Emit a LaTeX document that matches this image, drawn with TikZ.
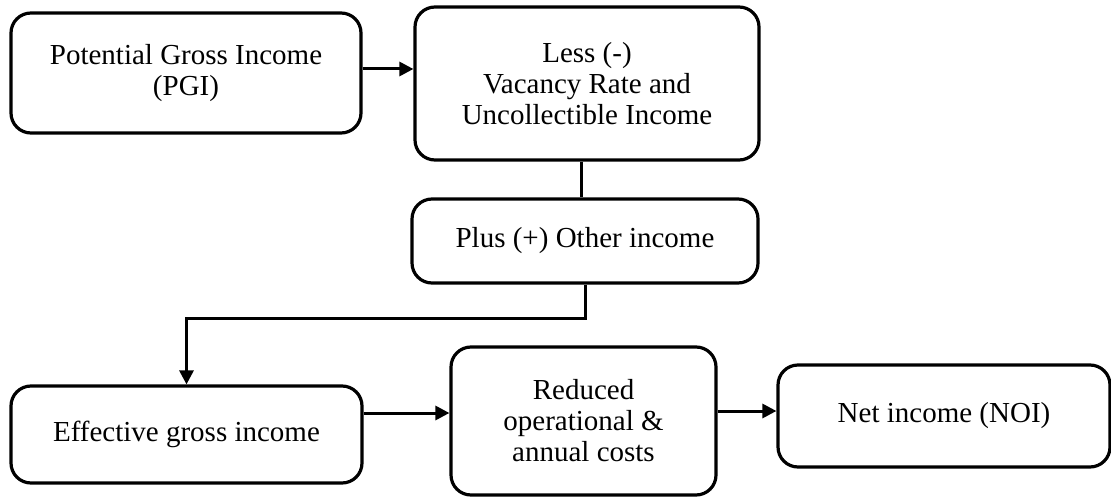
\documentclass[tikz,border=0pt]{standalone}
\usepackage{fontspec}
\setmainfont{Liberation Serif}
\usetikzlibrary{arrows.meta}
\tikzset{
  box/.style={draw, rounded corners=10pt, line width=1.6pt, align=center, inner sep=0pt,
    font=\fontsize{14.5}{15.5}\selectfont},
  link/.style={line width=1.5pt},
  >={Triangle[length=7pt,width=7pt]}
}
\begin{document}
\begin{tikzpicture}[x=0.5pt,y=-0.5pt]
    \useasboundingbox (0,0) rectangle (1111,497);
    % 上面三个框
    \node[box, minimum width=175pt, minimum height=60pt] (pgi) at (186,73) {Potential Gross Income\\(PGI)};
    \node[box, minimum width=172pt, minimum height=76.5pt] (less) at (587,83.5) {Less (-)\\Vacancy Rate and\\Uncollectible Income};
    \node[box, minimum width=173pt, minimum height=42pt] (plus) at (585,241) {Plus (+) Other income};
    % 下面三个框
    \node[box, minimum width=175.5pt, minimum height=48.5pt] (egi) at (186.5,434.5) {Effective gross income};
    \node[box, minimum width=132.5pt, minimum height=74pt] (cost) at (583.5,421) {Reduced\\operational \&\\annual costs};
    \node[box, minimum width=166pt, minimum height=51pt] (noi) at (944,416) {Net income (NOI)};

    % 连线
    \draw[link,->] ([yshift=2pt]pgi.east) -- ([yshift=2pt]pgi.east -| less.west);
    \draw[link] ([xshift=-3pt]less.south) -- ([xshift=-3pt]less.south |- plus.north);
    \draw[link,->] (plus.south) -- ++(0,34) -| (egi.north);
    \draw[link,->] ([yshift=10.75pt]egi.east) -- ([yshift=10.75pt]egi.east -| cost.west);
    \draw[link,->] ([yshift=5pt]cost.east) -- ([yshift=5pt]cost.east -| noi.west);
\end{tikzpicture}
\end{document}
